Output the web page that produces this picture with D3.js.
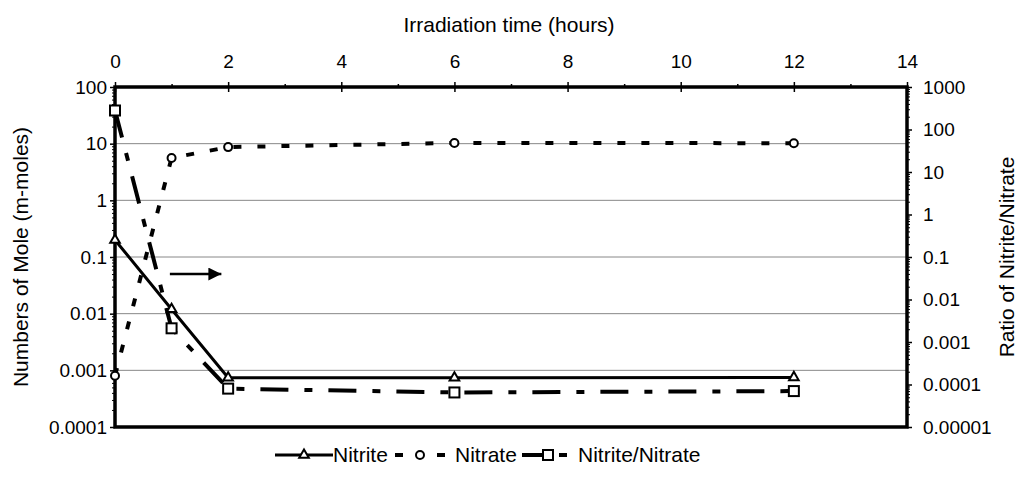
<!DOCTYPE html>
<html lang="en">
<head>
  <meta charset="UTF-8">
  <title>Nitrite / Nitrate vs irradiation time</title>
  <script src="https://d3js.org/d3.v7.min.js"></script>
  <style>
    body {
      margin: 0;
      background: #ffffff;
      font-family: "Liberation Sans", Arial, sans-serif;
    }

    svg {
      display: block;
    }

    .axis text {
      font-size: 19px;
      fill: #000;
    }

    .axis line {
      stroke: #000;
      stroke-width: 1.5px;
    }

    .axis path {
      display: none;
    }

    .grid line {
      stroke: #888;
      stroke-width: 1px;
    }

    .title {
      font-size: 21px;
      fill: #000;
    }
  </style>
</head>
<body>
  <div id="chart"></div>
  <script>
    // data
    const hours = [0, 1, 2, 6, 12];
    const nitrite = [0.2, 0.012, 0.00074, 0.00074, 0.00075];
    const nitrate = [0.0008, 5.6, 8.7, 10.3, 10.2];
    const ratio = [280, 0.0021, 0.00008, 0.000065, 0.00007];

    const xTicks = [0, 2, 4, 6, 8, 10, 12, 14];
    const xMinorTicks = [1, 3, 5, 7, 9, 11, 13];
    const leftTicks = [0.0001, 0.001, 0.01, 0.1, 1, 10, 100];
    const leftLabels = ["0.0001", "0.001", "0.01", "0.1", "1", "10", "100"];
    const rightTicks = [0.00001, 0.0001, 0.001, 0.01, 0.1, 1, 10, 100, 1000];
    const rightLabels = ["0.00001", "0.0001", "0.001", "0.01", "0.1", "1", "10", "100", "1000"];

    // arrow annotation (hours, left-axis value)
    const arrowHours = [0.97, 1.88];
    const arrowValue = 0.05;

    const width = 1021,
          height = 484,
          margin = {top: 87, right: 114, bottom: 57, left: 115},
          innerW = width - margin.left - margin.right,
          innerH = height - margin.top - margin.bottom;

    const svg = d3.select("#chart")
      .append("svg")
      .attr("width", width)
      .attr("height", height);

    const defs = svg.append("defs");
    defs.append("marker")
      .attr("id", "arrowhead")
      .attr("viewBox", "0 0 10 10")
      .attr("refX", 10)
      .attr("refY", 5)
      .attr("markerUnits", "userSpaceOnUse")
      .attr("markerWidth", 17)
      .attr("markerHeight", 13)
      .attr("orient", "auto")
      .append("path")
      .attr("d", "M0,0 L10,5 L0,10 Z")
      .attr("fill", "#000");

    const g = svg.append("g")
      .attr("transform", `translate(${margin.left},${margin.top})`);

    const x = d3.scaleLinear().domain([0, 14]).range([0, innerW]);
    const yL = d3.scaleLog().domain([0.0001, 100]).range([innerH, 0]);
    const yR = d3.scaleLog().domain([0.00001, 1000]).range([innerH, 0]);

    // gridlines
    g.append("g")
      .attr("class", "grid")
      .selectAll("line")
      .data(leftTicks.slice(1, -1))
      .enter().append("line")
      .attr("x1", 0)
      .attr("x2", innerW)
      .attr("y1", d => yL(d))
      .attr("y2", d => yL(d));

    // top axis
    g.append("g")
      .attr("class", "axis")
      .call(d3.axisTop(x).tickValues(xTicks).tickSize(5).tickPadding(14).tickFormat(d3.format("d")))
      .call(a => a.selectAll(".tick line").attr("y2", 10).attr("transform", "translate(0,-5)"));

    g.append("g")
      .attr("class", "axis")
      .call(d3.axisTop(x).tickValues(xMinorTicks).tickSize(3).tickFormat(""));

    // left axis
    const leftMinor = yL.ticks().filter(d => leftTicks.indexOf(d) < 0);
    g.append("g")
      .attr("class", "axis")
      .call(d3.axisLeft(yL).tickValues(leftTicks).tickSize(5).tickPadding(3)
        .tickFormat((d, i) => leftLabels[i]));
    g.append("g")
      .attr("class", "axis")
      .call(d3.axisLeft(yL).tickValues(leftMinor).tickSize(3).tickFormat(""))
      .selectAll("line").style("stroke-width", "1px");

    // right axis
    const rightMinor = yR.ticks().filter(d => rightTicks.indexOf(d) < 0);
    g.append("g")
      .attr("class", "axis")
      .attr("transform", `translate(${innerW},0)`)
      .call(d3.axisRight(yR).tickValues(rightTicks).tickSize(5).tickPadding(11)
        .tickFormat((d, i) => rightLabels[i]));
    g.append("g")
      .attr("class", "axis")
      .attr("transform", `translate(${innerW},0)`)
      .call(d3.axisRight(yR).tickValues(rightMinor).tickSize(3).tickFormat(""))
      .selectAll("line").style("stroke-width", "1px");

    // frame
    g.append("rect")
      .attr("width", innerW)
      .attr("height", innerH)
      .attr("fill", "none")
      .attr("stroke", "#000")
      .attr("stroke-width", 3.5);

    // titles
    svg.append("text")
      .attr("class", "title")
      .attr("x", margin.left + innerW / 2 - 2)
      .attr("y", 32)
      .attr("text-anchor", "middle")
      .text("Irradiation time (hours)");

    svg.append("text")
      .attr("class", "title")
      .attr("transform", `translate(28,${margin.top + innerH / 2}) rotate(-90)`)
      .attr("text-anchor", "middle")
      .text("Numbers of Mole (m-moles)");

    svg.append("text")
      .attr("class", "title")
      .attr("transform", `translate(1014,${margin.top + innerH / 2}) rotate(-90)`)
      .attr("text-anchor", "middle")
      .text("Ratio of Nitrite/Nitrate");

    // series
    const lineL = d3.line().x((d, i) => x(hours[i])).y(d => yL(d));
    const lineR = d3.line().x((d, i) => x(hours[i])).y(d => yR(d));

    g.append("path")
      .attr("d", lineR(ratio))
      .attr("fill", "none")
      .attr("stroke", "#000")
      .attr("stroke-width", 4)
      .attr("stroke-dasharray", "28,16,8,16");

    g.append("path")
      .attr("d", lineL(nitrate))
      .attr("fill", "none")
      .attr("stroke", "#000")
      .attr("stroke-width", 4)
      .attr("stroke-dasharray", "8,16");

    g.append("path")
      .attr("d", lineL(nitrite))
      .attr("fill", "none")
      .attr("stroke", "#000")
      .attr("stroke-width", 3);

    const tri = d3.symbol().type(d3.symbolTriangle).size(40);

    g.selectAll(".sq")
      .data(ratio)
      .enter().append("rect")
      .attr("x", (d, i) => x(hours[i]) - 5)
      .attr("y", d => yR(d) - 5)
      .attr("width", 10)
      .attr("height", 10)
      .attr("fill", "#fff")
      .attr("stroke", "#000")
      .attr("stroke-width", 2);

    g.selectAll(".circ")
      .data(nitrate)
      .enter().append("circle")
      .attr("cx", (d, i) => x(hours[i]))
      .attr("cy", d => yL(d))
      .attr("r", 4)
      .attr("fill", "#fff")
      .attr("stroke", "#000")
      .attr("stroke-width", 2);

    g.selectAll(".tri")
      .data(nitrite)
      .enter().append("path")
      .attr("d", tri)
      .attr("transform", (d, i) => `translate(${x(hours[i])},${yL(d)})`)
      .attr("fill", "#fff")
      .attr("stroke", "#000")
      .attr("stroke-width", 2);

    // arrow pointing to right axis
    g.append("line")
      .attr("x1", x(arrowHours[0]))
      .attr("x2", x(arrowHours[1]))
      .attr("y1", yL(arrowValue))
      .attr("y2", yL(arrowValue))
      .attr("stroke", "#000")
      .attr("stroke-width", 2.5)
      .attr("marker-end", "url(#arrowhead)");

    // legend
    const legendY = 455;
    const legend = svg.append("g").attr("class", "legend");

    legend.append("line")
      .attr("x1", 275).attr("x2", 333)
      .attr("y1", legendY).attr("y2", legendY)
      .attr("stroke", "#000").attr("stroke-width", 3);
    legend.append("path")
      .attr("d", tri)
      .attr("transform", `translate(304,${legendY})`)
      .attr("fill", "#fff").attr("stroke", "#000").attr("stroke-width", 2);
    legend.append("text")
      .attr("class", "title")
      .attr("x", 333).attr("y", legendY + 7)
      .text("Nitrite");

    legend.append("line")
      .attr("x1", 395).attr("x2", 445)
      .attr("y1", legendY).attr("y2", legendY)
      .attr("stroke", "#000").attr("stroke-width", 4)
      .attr("stroke-dasharray", "8,34");
    legend.append("circle")
      .attr("cx", 420).attr("cy", legendY).attr("r", 4)
      .attr("fill", "#fff").attr("stroke", "#000").attr("stroke-width", 2);
    legend.append("text")
      .attr("class", "title")
      .attr("x", 455).attr("y", legendY + 7)
      .text("Nitrate");

    legend.append("line")
      .attr("x1", 522).attr("x2", 567)
      .attr("y1", legendY).attr("y2", legendY)
      .attr("stroke", "#000").attr("stroke-width", 4)
      .attr("stroke-dasharray", "21,16,8");
    legend.append("rect")
      .attr("x", 543).attr("y", legendY - 5)
      .attr("width", 10).attr("height", 10)
      .attr("fill", "#fff").attr("stroke", "#000").attr("stroke-width", 2);
    legend.append("text")
      .attr("class", "title")
      .attr("x", 578).attr("y", legendY + 7)
      .text("Nitrite/Nitrate");
  </script>
</body>
</html>
